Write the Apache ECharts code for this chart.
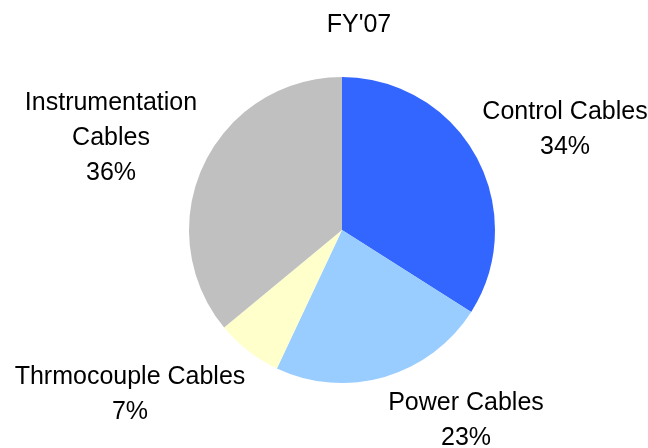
<!DOCTYPE html>
<html>
<head>
<meta charset="utf-8">
<script src="https://cdn.jsdelivr.net/npm/echarts@6/dist/echarts.min.js"></script>
<style>
    html, body { margin: 0; padding: 0; background: #fff; }
    #main { width: 648px; height: 448px; }
</style>
</head>
<body>
<div id="main"></div>
<script>
// 分类与占比
var categories = ['Control Cables', 'Power Cables', 'Thrmocouple Cables', 'Instrumentation\nCables'];
var shares = [34, 23, 7, 36];
var colors = ['#3366FF', '#99CCFF', '#FFFFCC', '#C0C0C0'];
// label centres (px)
var labelPos = [[565, 130], [466, 421], [130, 395], [111, 138]];

var chart = echarts.init(document.getElementById('main'));
chart.setOption({
    animation: false,
    title: {
        text: "FY'07",
        left: 354,
        top: 8,
        textAlign: 'center',
        textStyle: {
            fontFamily: 'Liberation Sans',
            fontSize: 25,
            fontWeight: 'normal',
            color: '#000'
        }
    },
    series: [{
        type: 'pie',
        center: [342, 230],
        radius: 153,
        startAngle: 90,
        clockwise: true,
        data: categories.map(function (c, i) {
            return {name: c, value: shares[i], itemStyle: {color: colors[i]}};
        }),
        label: {
            show: true,
            position: 'outside',
            formatter: '{b}\n{d}%',
            fontFamily: 'Liberation Sans',
            fontSize: 25,
            lineHeight: 35,
            color: '#000',
            align: 'center',
            overflow: 'none'
        },
        labelLine: {show: false},
        labelLayout: function (params) {
            var p = labelPos[params.dataIndex];
            return {x: p[0], y: p[1], align: 'center', verticalAlign: 'middle', hideOverlap: false};
        },
        emphasis: {disabled: true}
    }]
});
</script>
</body>
</html>
